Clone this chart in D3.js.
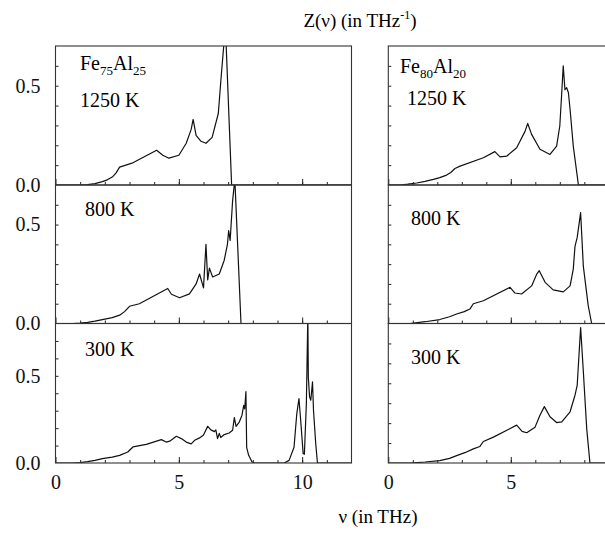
<!DOCTYPE html>
<html>
<head>
<meta charset="utf-8">
<script src="https://cdn.jsdelivr.net/npm/d3@7/dist/d3.min.js"></script>
<style>
  body { margin: 0; background: #fff; }
</style>
</head>
<body>
<script>

// phonon density of states: [nu (THz), Z]
const fe75_1250 = [[0,0],[1.0,0],[1.3,0.002],[1.6,0.007],[1.9,0.017],[2.1,0.026],[2.3,0.04],[2.45,0.06],[2.6,0.09],
  [3.1,0.11],[4.1,0.175],[4.35,0.15],[4.6,0.135],[5.0,0.15],[5.3,0.21],[5.5,0.28],[5.58,0.33],[5.7,0.25],[5.9,0.22],
  [6.1,0.21],[6.35,0.24],[6.6,0.36],[6.7,0.52],[6.82,0.7],[6.87,0.95],[6.92,0.7],[7.14,0],[12,0]]
const fe75_800 = [[0,0],[0.7,0],[1.0,0.002],[1.3,0.006],[1.6,0.012],[1.9,0.02],[2.3,0.03],[2.6,0.042],[2.8,0.06],
  [3.0,0.087],[3.4,0.10],[4.55,0.177],[4.7,0.148],[5.03,0.13],[5.43,0.15],[5.7,0.20],[5.84,0.25],[6.0,0.18],[6.1,0.40],
  [6.17,0.22],[6.24,0.28],[6.37,0.235],[6.64,0.25],[6.84,0.32],[6.97,0.40],[7.02,0.47],[7.08,0.42],[7.12,0.50],[7.18,0.62],
  [7.27,0.73],[7.52,0],[12,0]]
const fe75_300 = [[0,0],[0.7,0],[1.0,0.003],[1.3,0.008],[1.6,0.015],[1.9,0.025],[2.3,0.034],[2.6,0.044],[2.93,0.063],
  [3.14,0.092],[3.68,0.107],[4.29,0.134],[4.49,0.12],[4.63,0.125],[4.9,0.153],[5.1,0.14],[5.3,0.12],[5.5,0.11],[5.64,0.13],
  [5.84,0.144],[6.0,0.16],[6.17,0.21],[6.3,0.19],[6.44,0.18],[6.5,0.19],[6.57,0.14],[6.64,0.17],[6.7,0.146],[6.84,0.163],
  [7.04,0.172],[7.18,0.188],[7.25,0.26],[7.32,0.21],[7.45,0.235],[7.56,0.274],[7.63,0.33],[7.67,0.31],[7.72,0.41],[7.75,0.09],
  [7.83,0.044],[7.97,0.006],[8.06,0],[9.27,0],[9.47,0.015],[9.67,0.09],[9.78,0.28],[9.87,0.37],[9.94,0.245],[10.04,0.054],
  [10.09,0.05],[10.17,0.34],[10.23,0.85],[10.25,0.49],[10.3,0.38],[10.35,0.36],[10.42,0.465],[10.46,0.30],[10.55,0.11],
  [10.62,0],[12,0]]

const fe80_1250 = [[0,0],[0.48,0],[0.8,0.004],[1.16,0.01],[1.5,0.018],[1.84,0.028],[2.1,0.037],[2.38,0.05],[2.55,0.063],
  [2.72,0.083],[2.93,0.095],[3.88,0.137],[4.35,0.168],[4.56,0.142],[4.83,0.145],[5.24,0.188],[5.58,0.27],[5.69,0.31],
  [5.85,0.255],[6.19,0.18],[6.6,0.154],[6.87,0.196],[7.0,0.297],[7.08,0.466],[7.14,0.60],[7.21,0.48],[7.28,0.49],[7.35,0.466],
  [7.42,0.38],[7.55,0.196],[7.76,0],[9,0]]
const fe80_800 = [[0,0],[0.89,0],[1.5,0.009],[2.1,0.02],[2.5,0.034],[2.79,0.048],[3.1,0.06],[3.33,0.073],[3.47,0.10],
  [3.88,0.115],[4.97,0.183],[5.17,0.154],[5.44,0.149],[5.85,0.19],[6.06,0.25],[6.16,0.267],[6.4,0.208],[6.73,0.17],[7.14,0.16],
  [7.42,0.19],[7.55,0.275],[7.62,0.39],[7.71,0.435],[7.85,0.56],[7.96,0.29],[8.16,0.09],[8.3,0],[9,0]]
const fe80_300 = [[0,0],[0.89,0],[1.5,0.005],[2.1,0.012],[2.5,0.023],[2.79,0.037],[3.15,0.053],[3.47,0.071],[3.74,0.083],
  [3.88,0.108],[4.29,0.13],[5.24,0.19],[5.46,0.159],[5.65,0.152],[5.99,0.18],[6.19,0.24],[6.37,0.283],[6.6,0.232],[6.87,0.203],
  [7.08,0.206],[7.42,0.257],[7.62,0.34],[7.71,0.39],[7.85,0.68],[7.96,0.46],[8.1,0.17],[8.23,0],[9,0]]

const temps = ["1250 K", "800 K", "300 K"]
const alloys = [["Fe", "75", "Al", "25"], ["Fe", "80", "Al", "20"]]
const xMax = [12, 9]
const yMax = [[0.7, 0.7, 0.8], [0.7, 0.7, 0.7]]
const xTickLabels = [[0, 5, 10], [0, 5]]
const yTickLabels = [0, 0.5]

const curves = [[fe75_1250, fe75_800, fe75_300], [fe80_1250, fe80_800, fe80_300]]

const svgWidth = 605
const svgHeight = 533
const serif = "'Liberation Serif', 'Times New Roman', Times, 'DejaVu Serif', serif"

// column x ranges and row y ranges (pixels)
const colX = [[55.5, 351.5], [388.3, 608.8]]
const rowY = [[46, 185], [185, 323.5], [323.5, 463]]

var svg = d3.select("body")
  .append("svg")
    .attr("width", svgWidth)
    .attr("height", svgHeight)
    .style("font-family", serif)

var line = d3.line()

colX.forEach(function(cx, c) {
  var xScale = d3.scaleLinear().domain([0, xMax[c]]).range(cx)

  rowY.forEach(function(ry, r) {
    var yScale = d3.scaleLinear().domain([0, yMax[c][r]]).range([ry[1], ry[0]])
    var g = svg.append("g")

    var clipId = "clip" + c + r
    svg.append("clipPath").attr("id", clipId)
      .append("rect")
        .attr("x", cx[0]).attr("y", ry[0])
        .attr("width", cx[1] - cx[0]).attr("height", ry[1] - ry[0])

    // curve
    g.append("path")
      .datum(curves[c][r])
      .attr("clip-path", "url(#" + clipId + ")")
      .attr("fill", "none")
      .attr("stroke", "#111")
      .attr("stroke-width", 1.2)
      .attr("stroke-linejoin", "round")
      .attr("d", line.x(function(d) { return xScale(d[0]) }).y(function(d) { return yScale(d[1]) }))

    // minor x ticks
    g.append("g")
      .attr("transform", "translate(0," + ry[1] + ")")
      .call(d3.axisBottom(xScale).tickValues(d3.range(1, xMax[c])).tickSizeInner(-3).tickSizeOuter(0).tickFormat(""))
    // major x ticks
    var xMajor = g.append("g")
      .attr("transform", "translate(0," + ry[1] + ")")
      .call(d3.axisBottom(xScale).tickValues(xTickLabels[c]).tickSizeInner(-6).tickSizeOuter(0).tickPadding(12)
        .tickFormat(r == 2 ? d3.format("d") : ""))
    xMajor.selectAll("text").style("font-size", "20px").style("font-family", serif).attr("fill", "#111")

    // y ticks
    g.append("g")
      .attr("transform", "translate(" + cx[0] + ",0)")
      .call(d3.axisLeft(yScale).tickValues(d3.range(1, Math.round(yMax[c][r] * 10)).map(function(v) { return v / 10 }))
        .tickSizeInner(-3).tickSizeOuter(0).tickFormat(""))
    if (c == 0) {
      var yLab = g.append("g")
        .attr("transform", "translate(" + cx[0] + ",0)")
        .call(d3.axisLeft(yScale).tickValues(yTickLabels).tickSize(0).tickPadding(15).tickFormat(d3.format(".1f")))
      yLab.selectAll("text").style("font-size", "20px").style("font-family", serif).attr("fill", "#111")
      yLab.select(".domain").remove()
    }
    g.selectAll(".domain").remove()
    g.selectAll(".tick line").attr("stroke", "#222")

    // frame
    g.append("rect")
      .attr("x", cx[0]).attr("y", ry[0])
      .attr("width", cx[1] - cx[0]).attr("height", ry[1] - ry[0])
      .attr("fill", "none")
      .attr("stroke", "#333")
      .attr("stroke-width", 1.1)

    // temperature label
    var tx = c == 0 ? (r == 0 ? 80 : 85) : (r == 0 ? 407 : 411)
    var ty = c == 0 ? [107, 216, 356][r] : [105, 225, 364][r]
    g.append("text")
      .attr("x", tx).attr("y", ty)
      .style("font-size", "20px")
      .style("font-family", serif)
      .text(temps[r])
  })

  // alloy label with subscripts
  var a = alloys[c]
  var lab = svg.append("text")
    .attr("x", c == 0 ? 80 : 400)
    .attr("y", c == 0 ? 70 : 73)
    .style("font-size", "20px")
    .style("font-family", serif)
  lab.append("tspan").text(a[0])
  lab.append("tspan").attr("dy", 5).style("font-size", "13px").text(a[1])
  lab.append("tspan").attr("dy", -5).text(a[2])
  lab.append("tspan").attr("dy", 5).style("font-size", "13px").text(a[3])
})

// axis titles
var title = svg.append("text")
  .attr("x", 360).attr("y", 27)
  .attr("text-anchor", "middle")
  .style("font-size", "19px")
  .style("font-family", serif)
title.append("tspan").text("Z(ν) (in THz")
title.append("tspan").attr("dy", -8).style("font-size", "12px").text("-1")
title.append("tspan").attr("dy", 8).text(")")

svg.append("text")
  .attr("x", 378).attr("y", 523)
  .attr("text-anchor", "middle")
  .style("font-size", "19px")
  .style("font-family", serif)
  .text("ν (in THz)")

</script>
</body>
</html>
